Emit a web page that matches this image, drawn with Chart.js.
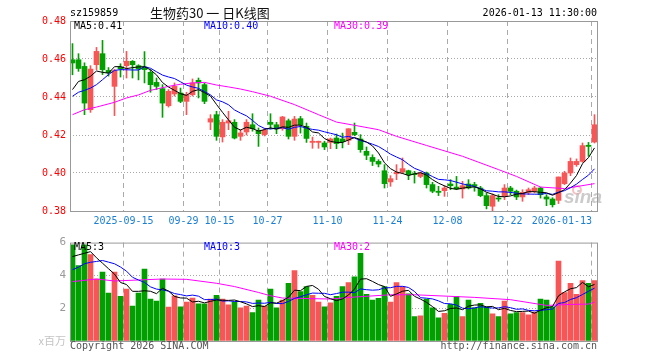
<!DOCTYPE html>
<html>
<head>
<meta charset="utf-8">
<script src="https://cdn.jsdelivr.net/npm/chart.js@4.4.1/dist/chart.umd.min.js"></script>
<style>
  body { margin: 0; background: #fff; }
  #wrap { position: relative; width: 660px; height: 360px; }
  #kline { position: absolute; left: 0; top: 0; }
  #vol { position: absolute; left: 0; top: 232px; }
</style>
</head>
<body>
<div id="wrap">
  <canvas id="kline" width="660" height="232"></canvas>
  <canvas id="vol" width="660" height="128"></canvas>
</div>
<script>
// trading days shown on the chart
const dates = [
  '2025-09-02','2025-09-03','2025-09-04','2025-09-05','2025-09-08','2025-09-09','2025-09-10','2025-09-11','2025-09-12',
  '2025-09-15','2025-09-16','2025-09-17','2025-09-18','2025-09-19','2025-09-22','2025-09-23','2025-09-24','2025-09-25','2025-09-26',
  '2025-09-29','2025-09-30',
  '2025-10-09','2025-10-10','2025-10-13','2025-10-14','2025-10-15','2025-10-16','2025-10-17','2025-10-20','2025-10-21',
  '2025-10-22','2025-10-23','2025-10-24','2025-10-27','2025-10-28','2025-10-29','2025-10-30','2025-10-31',
  '2025-11-03','2025-11-04','2025-11-05','2025-11-06','2025-11-07','2025-11-10','2025-11-11','2025-11-12','2025-11-13','2025-11-14',
  '2025-11-17','2025-11-18','2025-11-19','2025-11-20','2025-11-21','2025-11-24','2025-11-25','2025-11-26','2025-11-27','2025-11-28',
  '2025-12-01','2025-12-02','2025-12-03','2025-12-04','2025-12-05','2025-12-08','2025-12-09','2025-12-10','2025-12-11','2025-12-12',
  '2025-12-15','2025-12-16','2025-12-17','2025-12-18','2025-12-19','2025-12-22','2025-12-23','2025-12-24','2025-12-25','2025-12-26',
  '2025-12-29','2025-12-30','2025-12-31',
  '2026-01-05','2026-01-06','2026-01-07','2026-01-08','2026-01-09','2026-01-12','2026-01-13'
];

const opens = [
  0.4596,0.4596,0.4561,0.4333,0.4570,0.4628,0.4540,0.4456,0.4558,0.4565,
  0.4588,0.4565,0.4558,0.4530,0.4477,0.4444,0.4354,0.4416,0.4421,0.4377,
  0.4412,0.4488,0.4465,0.4268,0.4307,0.4190,0.4263,0.4267,0.4193,0.4216,
  0.4254,0.4223,0.4202,0.4267,0.4254,0.4233,0.4275,0.4193,0.4286,0.4246,
  0.4161,0.4161,0.4158,0.4161,0.4184,0.4179,0.4172,0.4214,0.4179,0.4114,
  0.4082,0.4061,0.4012,0.3953,0.3996,0.4005,0.4012,0.3996,0.3982,0.4000,
  0.3939,0.3904,0.3907,0.3942,0.3926,0.3916,0.3942,0.3939,0.3921,0.3881,
  0.3825,0.3868,0.3877,0.3921,0.3904,0.3874,0.3898,0.3904,0.3921,0.3874,
  0.3863,0.3856,0.3944,0.4000,0.4044,0.4061,0.4146,0.4163
];
const highs = [
  0.4681,0.4628,0.4580,0.4565,0.4661,0.4698,0.4555,0.4545,0.4575,0.4640,
  0.4592,0.4570,0.4639,0.4544,0.4500,0.4465,0.4439,0.4474,0.4447,0.4425,
  0.4495,0.4500,0.4474,0.4307,0.4325,0.4281,0.4325,0.4281,0.4228,0.4281,
  0.4312,0.4237,0.4235,0.4312,0.4267,0.4298,0.4284,0.4298,0.4298,0.4263,
  0.4189,0.4168,0.4167,0.4184,0.4205,0.4210,0.4233,0.4263,0.4202,0.4137,
  0.4096,0.4070,0.4044,0.3986,0.4044,0.4079,0.4015,0.4009,0.4005,0.4005,
  0.3951,0.3930,0.3933,0.3965,0.3982,0.3956,0.3965,0.3951,0.3930,0.3895,
  0.3890,0.3886,0.3939,0.3930,0.3910,0.3912,0.3921,0.3930,0.3926,0.3886,
  0.3870,0.3979,0.4009,0.4079,0.4074,0.4158,0.4161,0.4307
];
const lows = [
  0.4517,0.4535,0.4307,0.4319,0.4544,0.4518,0.4510,0.4302,0.4505,0.4500,
  0.4500,0.4490,0.4474,0.4425,0.4439,0.4293,0.4347,0.4405,0.4370,0.4307,
  0.4405,0.4395,0.4365,0.4228,0.4172,0.4163,0.4228,0.4179,0.4172,0.4200,
  0.4220,0.4140,0.4195,0.4232,0.4207,0.4225,0.4179,0.4172,0.4210,0.4161,
  0.4130,0.4130,0.4123,0.4128,0.4128,0.4132,0.4149,0.4196,0.4109,0.4070,
  0.4039,0.4032,0.3921,0.3930,0.3965,0.3996,0.3965,0.3947,0.3975,0.3921,
  0.3896,0.3881,0.3877,0.3912,0.3912,0.3868,0.3916,0.3904,0.3875,0.3811,
  0.3798,0.3851,0.3860,0.3886,0.3860,0.3851,0.3886,0.3895,0.3868,0.3828,
  0.3821,0.3839,0.3939,0.3986,0.4035,0.4056,0.4088,0.4158
];
const closes = [
  0.4579,0.4550,0.4368,0.4547,0.4640,0.4544,0.4528,0.4539,0.4548,0.4588,
  0.4570,0.4547,0.4544,0.4465,0.4456,0.4368,0.4430,0.4456,0.4377,0.4412,
  0.4474,0.4474,0.4377,0.4286,0.4193,0.4267,0.4275,0.4184,0.4211,0.4267,
  0.4233,0.4207,0.4225,0.4256,0.4232,0.4295,0.4193,0.4284,0.4254,0.4182,
  0.4167,0.4167,0.4137,0.4179,0.4155,0.4165,0.4233,0.4202,0.4123,0.4093,
  0.4061,0.4047,0.3944,0.3970,0.4004,0.4023,0.3991,0.3991,0.4000,0.3939,
  0.3904,0.3898,0.3921,0.3933,0.3916,0.3933,0.3921,0.3930,0.3881,0.3828,
  0.3881,0.3863,0.3921,0.3904,0.3874,0.3898,0.3912,0.3921,0.3886,0.3863,
  0.3833,0.3979,0.4000,0.4061,0.4061,0.4144,0.4140,0.4254
];
// volume, millions
const volumes = [
  5.86,4.60,5.86,5.27,3.78,4.21,2.92,4.21,2.72,3.16,
  2.13,2.92,4.39,2.56,2.43,3.78,2.07,2.76,2.09,2.37,
  2.62,2.27,2.27,2.56,2.78,2.56,2.21,2.39,2.03,2.13,
  1.73,2.49,2.13,3.16,2.03,2.49,3.52,4.29,3.02,3.32,
  2.78,2.37,2.09,2.33,2.72,3.32,3.56,3.92,5.35,2.84,
  2.49,2.60,3.32,2.37,3.56,3.32,2.88,1.49,1.53,2.56,
  2.03,1.41,1.69,2.23,2.72,1.49,2.49,2.03,2.29,2.09,
  1.65,1.49,2.43,1.65,1.73,1.73,1.59,1.77,2.56,2.49,
  2.09,4.87,2.96,3.52,2.84,3.68,3.52,3.68
];

// moving averages at the left edge need days before the window
const ma5Head = [0.4439, 0.4482, 0.4491, 0.4509];
const ma10Head = [0.4404, 0.4425, 0.4435, 0.4447, 0.4465, 0.4491, 0.4518, 0.4540, 0.4544];
const ma30Days = [0, 2, 4, 7, 9, 11, 13, 16, 18, 20, 22, 24, 26, 28, 30, 33, 37, 41, 44, 47, 51, 54, 59, 65, 71, 74, 78, 82, 87];
const ma30Vals = [0.4307,0.4333,0.4347,0.4372,0.4395,0.4411,0.4435,0.4456,0.4467,0.4474,0.4477,0.4463,0.4453,0.4442,0.4428,
                  0.4404,0.4360,0.4307,0.4268,0.4251,0.4228,0.4193,0.4145,0.4088,0.4018,0.3982,0.3926,0.3918,0.3944];
const volMa5Head = [5.15, 5.25, 5.35, 5.45];
const volMa10Head = [4.35, 4.50, 4.71, 4.80, 4.85, 4.91, 4.81, 4.71, 4.51];
const volMa30Days = [0, 4, 7, 11, 15, 19, 24, 27, 31, 33, 35, 43, 47, 53, 57, 67, 73, 79, 83, 86, 87];
const volMa30Vals = [3.62,3.78,3.66,3.72,3.78,3.76,3.52,3.32,2.96,2.76,2.62,2.56,2.68,2.82,2.82,2.66,2.52,2.17,2.23,2.25,2.37];

const tickDates = ['2025-09-15','2025-09-29','2025-10-15','2025-10-27','2025-11-10','2025-11-24','2025-12-08','2025-12-22','2026-01-13'];
const tickLabels = ['2025-09-15','09-29','10-15','10-27','11-10','11-24','12-08','12-22','2026-01-13'];
const priceTicks = [0.38, 0.40, 0.42, 0.44, 0.46, 0.48];
const volTicks = [0, 2, 4, 6];

const RED = '#f85656', GREEN = '#00a000';
const mono = '"DejaVu Sans Mono", monospace';

function movingAvg(src, n, head) {
  return src.map((v, i) => {
    if (i < n - 1) return head[i];
    let s = 0;
    for (let k = i - n + 1; k <= i; k++) s += src[k];
    return s / n;
  });
}
const pts = arr => arr.map((v, i) => ({x: i, y: v}));
const sparse = (days, vals) => days.map((d, k) => ({x: d, y: vals[k]}));

const upColor = dates.map((d, i) => closes[i] >= opens[i] ? RED : GREEN);
const ma5 = movingAvg(closes, 5, ma5Head);
const ma10 = movingAvg(closes, 10, ma10Head);
const volMa5 = movingAvg(volumes, 5, volMa5Head);
const volMa10 = movingAvg(volumes, 10, volMa10Head);

function text(ctx, str, x, y, color, align, font) {
  ctx.save();
  ctx.font = font || ('10px ' + mono);
  ctx.fillStyle = color;
  ctx.textAlign = align || 'left';
  ctx.textBaseline = 'middle';
  ctx.fillText(str, x, y);
  ctx.restore();
}
function frame(chart) {
  const {ctx, chartArea: a} = chart;
  ctx.save();
  ctx.strokeStyle = '#999';
  ctx.lineWidth = 1;
  ctx.strokeRect(a.left + 0.5, a.top + 0.5, a.right - a.left - 1, a.bottom - a.top);
  ctx.restore();
}
// dashed day lines at the tick dates, placed by the x scale
function dayLines(chart) {
  const {ctx, chartArea: a, scales: {x}} = chart;
  ctx.save();
  ctx.strokeStyle = '#aaa';
  ctx.lineWidth = 1;
  ctx.setLineDash([5, 4]);
  tickDates.forEach(d => {
    const px = Math.round(x.getPixelForValue(dates.indexOf(d) - 0.5) - 0.5) + 0.5;
    ctx.beginPath();
    ctx.moveTo(px, a.top);
    ctx.lineTo(px, a.bottom);
    ctx.stroke();
  });
  ctx.restore();
}

// x scale: one slot of 6px per day
const xMin = -0.5 + 0.5 / 6, xMax = dates.length - 0.5 + 0.5 / 6;
function xScale() {
  return {
    type: 'linear', min: xMin, max: xMax, offset: false,
    ticks: {display: false},
    grid: {display: false, drawTicks: false},
    border: {display: false},
    afterFit: s => { s.height = 0; }
  };
}

const klineDeco = {
  id: 'klineDeco',
  beforeDatasetsDraw(chart) {
    const {ctx} = chart;
    dayLines(chart);
    // faint sina watermark
    ctx.save();
    ctx.strokeStyle = 'rgba(240,140,140,0.55)';
    ctx.lineWidth = 2;
    ctx.beginPath(); ctx.arc(577, 190, 4, 0, Math.PI * 2); ctx.stroke();
    ctx.restore();
    text(ctx, 'sina', 564, 198, 'rgba(185,185,185,0.75)', 'left', 'italic bold 19px "Liberation Sans", Arial');
  },
  afterDraw(chart) {
    const {ctx, chartArea: a, scales: {x}} = chart;
    frame(chart);
    ctx.save();
    ctx.font = '10px ' + mono;
    tickDates.forEach((d, k) => {
      const px = x.getPixelForValue(dates.indexOf(d) - 0.5);
      const w = ctx.measureText(tickLabels[k]).width;
      const cx = Math.min(px, a.right - 6 - w / 2);
      text(ctx, tickLabels[k], cx, 221, '#1a7fd4', 'center');
    });
    ctx.restore();
    text(ctx, 'sz159859', 70, 13, '#000');
    text(ctx, '生物药30 一 日K线图', 150, 13, '#111', 'left', '13px "Noto Sans CJK SC", sans-serif');
    text(ctx, '2026-01-13 11:30:00', 597, 13, '#000', 'right');
    text(ctx, 'MA5:' + ma5[ma5.length - 1].toFixed(2), 74, 26, '#000');
    text(ctx, 'MA10:' + ma10[ma10.length - 1].toFixed(2), 204, 26, '#0000ff');
    text(ctx, 'MA30:' + ma30Vals[ma30Vals.length - 1].toFixed(2), 334, 26, '#ff00ff');
  }
};

new Chart(document.getElementById('kline'), {
  type: 'bar',
  data: {
    datasets: [
      {type: 'line', data: pts(ma5), borderColor: '#000', borderWidth: 1, pointRadius: 0, order: 0},
      {type: 'line', data: pts(ma10), borderColor: '#0000ff', borderWidth: 1, pointRadius: 0, order: 0},
      {type: 'line', data: sparse(ma30Days, ma30Vals), borderColor: '#ff00ff', borderWidth: 1, pointRadius: 0, order: 0},
      {data: dates.map((d, i) => ({x: i, y: [opens[i], closes[i]]})), backgroundColor: upColor,
       grouped: false, barPercentage: 1, categoryPercentage: 1, maxBarThickness: 5, minBarLength: 1, order: 1},
      {data: dates.map((d, i) => ({x: i, y: [lows[i], highs[i]]})), backgroundColor: upColor,
       grouped: false, barPercentage: 1, categoryPercentage: 1, maxBarThickness: 1, order: 2}
    ]
  },
  options: {
    responsive: false, animation: false, events: [],
    layout: {padding: {left: 0, right: 62, top: 21, bottom: 21}},
    plugins: {legend: {display: false}, tooltip: {enabled: false}},
    scales: {
      x: xScale(),
      y: {
        min: priceTicks[0], max: priceTicks[priceTicks.length - 1],
        afterBuildTicks: s => { s.ticks = priceTicks.map(v => ({value: v})); },
        ticks: {color: '#ff0000', font: {family: mono, size: 10}, padding: 4, callback: v => v.toFixed(2)},
        grid: {color: c => (c.index === 0 || c.index === priceTicks.length - 1) ? 'rgba(0,0,0,0)' : '#a8a8a8', drawTicks: false},
        border: {display: false, dash: [1, 2]},
        afterFit: s => { s.width = 70; }
      }
    }
  },
  plugins: [klineDeco]
});

const volDeco = {
  id: 'volDeco',
  beforeDatasetsDraw(chart) {
    dayLines(chart);
  },
  afterDraw(chart) {
    const {ctx} = chart;
    frame(chart);
    text(ctx, 'MA5:' + Math.round(volMa5[volMa5.length - 1]), 74, 15, '#000');
    text(ctx, 'MA10:' + Math.round(volMa10[volMa10.length - 1]), 204, 15, '#0000ff');
    text(ctx, 'MA30:' + Math.round(volMa30Vals[volMa30Vals.length - 1]), 334, 15, '#ff00ff');
    text(ctx, 'Copyright 2026 SINA.COM', 70, 114, '#555');
    text(ctx, 'http://finance.sina.com.cn', 597, 114, '#555', 'right');
  }
};

new Chart(document.getElementById('vol'), {
  type: 'bar',
  data: {
    datasets: [
      {type: 'line', data: pts(volMa5), borderColor: '#000', borderWidth: 1, pointRadius: 0, order: 0},
      {type: 'line', data: pts(volMa10), borderColor: '#0000ff', borderWidth: 1, pointRadius: 0, order: 0},
      {type: 'line', data: sparse(volMa30Days, volMa30Vals), borderColor: '#ff00ff', borderWidth: 1, pointRadius: 0, order: 0},
      {data: volumes.map((v, i) => ({x: i, y: v})), backgroundColor: upColor,
       grouped: false, barPercentage: 1, categoryPercentage: 1, maxBarThickness: 5, order: 1}
    ]
  },
  options: {
    responsive: false, animation: false, events: [],
    layout: {padding: {left: 0, right: 62, top: 8, bottom: 19}},
    plugins: {legend: {display: false}, tooltip: {enabled: false}},
    scales: {
      x: xScale(),
      y: {
        min: volTicks[0], max: volTicks[volTicks.length - 1],
        afterBuildTicks: s => { s.ticks = volTicks.map(v => ({value: v})); },
        ticks: {
          color: c => c.tick.value === 0 ? '#c4c4c4' : '#999',
          font: c => c.tick && c.tick.value === 0 ? {family: '"Noto Sans CJK SC", sans-serif', size: 11} : {family: mono, size: 11},
          padding: 4,
          callback: v => v === 0 ? 'x百万' : String(v)
        },
        grid: {color: c => (c.index === 0 || c.index === volTicks.length - 1) ? 'rgba(0,0,0,0)' : '#a8a8a8', drawTicks: false},
        border: {display: false, dash: [1, 2]},
        afterFit: s => { s.width = 70; }
      }
    }
  },
  plugins: [volDeco]
});
</script>
</body>
</html>
